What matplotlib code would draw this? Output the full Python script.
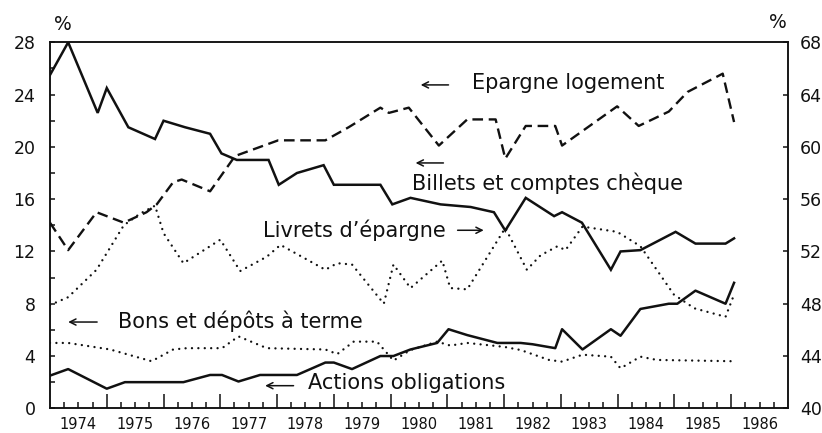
import matplotlib.pyplot as plt
import numpy as np

# Billets et comptes chèque (left scale, %)
billets_t = [1974.00, 1974.32, 1974.84, 1975.00, 1975.38, 1975.85, 1976.00, 1976.38,
             1976.82, 1977.02, 1977.29, 1977.85, 1978.03, 1978.35, 1978.82, 1979.00,
             1979.82, 1980.03, 1980.35, 1980.88, 1981.41, 1981.82, 1982.02, 1982.38,
             1982.88, 1983.02, 1983.37, 1983.88, 1984.05, 1984.40, 1985.02, 1985.37,
             1985.90, 1986.05]
billets_v = [25.5, 28.0, 22.6, 24.5, 21.5, 20.6, 22.0, 21.5,
             21.0, 19.5, 19.0, 19.0, 17.1, 18.0, 18.6, 17.1,
             17.1, 15.6, 16.1, 15.6, 15.4, 15.0, 13.6, 16.1,
             14.7, 15.0, 14.2, 10.6, 12.0, 12.1, 13.5, 12.6,
             12.6, 13.0]

# Epargne logement (left scale, %)
logement_t = [1974.00, 1974.32, 1974.82, 1975.30, 1975.70, 1975.88, 1976.17, 1976.32,
              1976.82, 1977.26, 1978.02, 1978.85, 1979.26, 1979.82, 1979.97, 1980.32,
              1980.85, 1981.35, 1981.85, 1982.02, 1982.38, 1982.90, 1983.02, 1983.99,
              1984.37, 1984.90, 1985.23, 1985.85, 1986.05]
logement_v = [14.2, 12.1, 15.0, 14.2, 15.0, 15.6, 17.3, 17.5,
              16.6, 19.3, 20.5, 20.5, 21.5, 23.0, 22.6, 23.0,
              20.1, 22.1, 22.1, 19.1, 21.6, 21.6, 20.1, 23.1,
              21.6, 22.7, 24.2, 25.6, 21.9]

# Livrets d'épargne (right scale, %)
livrets_t = [1974.00, 1974.32, 1974.82, 1975.30, 1975.59, 1975.85, 1976.00, 1976.35,
             1977.00, 1977.35, 1977.82, 1978.06, 1978.85, 1979.06, 1979.32, 1979.88,
             1980.05, 1980.35, 1980.91, 1981.05, 1981.35, 1982.02, 1982.40, 1982.64,
             1982.94, 1983.08, 1983.38, 1983.99, 1984.40, 1984.99, 1985.35, 1985.90,
             1986.05]
livrets_v = [47.9, 48.5, 50.6, 54.0, 54.9, 55.5, 53.4, 51.1,
             52.9, 50.5, 51.6, 52.5, 50.6, 51.1, 51.0, 48.0,
             51.0, 49.2, 51.3, 49.2, 49.1, 53.8, 50.6, 51.7,
             52.4, 52.1, 53.9, 53.5, 52.4, 48.7, 47.65, 47.0,
             48.7]

# Bons et dépôts à terme (left scale, %)
bons_t = [1974.00, 1974.32, 1975.06, 1975.79, 1976.17, 1976.41, 1977.03, 1977.32,
          1977.82, 1978.85, 1979.06, 1979.35, 1979.76, 1980.05, 1980.35, 1980.82,
          1981.05, 1981.35, 1982.00, 1982.29, 1982.79, 1983.02, 1983.38, 1983.88,
          1984.05, 1984.40, 1984.69, 1986.05]
bons_v = [5.0, 5.0, 4.5, 3.6, 4.5, 4.6, 4.6, 5.5,
          4.6, 4.5, 4.15, 5.1, 5.1, 3.65, 4.46, 5.1,
          4.8, 5.0, 4.7, 4.46, 3.7, 3.57, 4.1, 3.95,
          3.06, 3.95, 3.7, 3.6]

# Actions obligations (left scale, %)
actions_t = [1974.00, 1974.32, 1975.00, 1975.32, 1976.35, 1976.82, 1977.03, 1977.32,
             1977.70, 1978.35, 1978.85, 1979.00, 1979.32, 1979.82, 1980.05, 1980.35,
             1980.82, 1981.02, 1981.35, 1981.88, 1982.29, 1982.50, 1982.90, 1983.02,
             1983.38, 1983.88, 1984.05, 1984.40, 1984.90, 1985.05, 1985.37, 1985.90,
             1986.05]
actions_v = [2.5, 3.0, 1.5, 2.0, 2.0, 2.55, 2.55, 2.05,
             2.55, 2.55, 3.5, 3.5, 3.0, 4.0, 4.0, 4.5,
             5.0, 6.05, 5.6, 5.0, 5.0, 4.9, 4.6, 6.05,
             4.5, 6.05, 5.55, 7.6, 8.0, 8.0, 9.0, 8.0,
             9.6]

years = list(range(1974, 1987))
ink = '#111111'

fig = plt.figure(figsize=(8.22, 4.33), dpi=100)
ax = fig.add_axes([50 / 822, 1 - 408.3 / 433, 738 / 822, 366 / 433])
ax2 = ax.twinx()

dotted = (0, (0.01, 2.7))
ax.plot(billets_t, billets_v, color=ink, lw=1.8, solid_joinstyle='miter')
ax.plot(logement_t, logement_v, color=ink, lw=1.7, linestyle=(0, (4.5, 2.4)))
ax.plot(bons_t, bons_v, color=ink, lw=1.7, linestyle=dotted, dash_capstyle='round')
ax.plot(actions_t, actions_v, color=ink, lw=1.8)
ax2.plot(livrets_t, livrets_v, color=ink, lw=1.7, linestyle=dotted, dash_capstyle='round')

ax.set_xlim(1974, 1987)
ax.set_ylim(0, 28)
ax2.set_ylim(40, 68)

# quarterly ticks along the bottom, years labelled in the middle of each year
ax.set_xticks(years[1:], labels=[])
ax.set_xticks([y + q for y in years for q in (0.25, 0.5, 0.75)], minor=True)
ax.tick_params(axis='x', which='major', direction='in', length=10, width=1.1, color=ink)
ax.tick_params(axis='x', which='minor', direction='in', length=4.5, width=1.1, color=ink)
secax = ax.secondary_xaxis('bottom')
secax.set_xticks([y + 0.5 for y in years], labels=[str(y) for y in years])
secax.tick_params(length=0, pad=6.5, labelsize=10.5, labelcolor=ink)
secax.spines['bottom'].set_visible(False)

ax.set_yticks(range(0, 29, 4))
ax.set_yticks(range(2, 28, 4), minor=True)
ax.tick_params(axis='y', which='both', direction='in', length=3.6, width=1.1,
               color=ink, labelsize=12.5, labelcolor=ink, pad=10.5)
ax2.set_yticks(range(40, 69, 4))
ax2.tick_params(axis='y', direction='in', length=3.6, width=1.1,
                color=ink, labelsize=12.5, labelcolor=ink, pad=8.5)

for a in (ax, ax2):
    for s in a.spines.values():
        s.set_linewidth(1.1)
        s.set_color(ink)

fig.text(63 / 822, 1 - 25 / 433, '%', fontsize=13.5, color=ink, ha='center', va='center')
fig.text(778 / 822, 1 - 22 / 433, '%', fontsize=13.5, color=ink, ha='center', va='center')

# series captions with their pointing arrows
arrow = dict(arrowstyle='->', lw=1.1, color=ink, shrinkA=0, shrinkB=0,
             mutation_scale=11)
captions = [
    ('Epargne logement', 1981.44, 24.9, (1980.53, 24.74), (1981.02, 24.74)),
    ('Billets et comptes chèque', 1980.37, 17.24, (1980.44, 18.77), (1980.93, 18.77)),
    ('Livrets d’épargne', 1977.76, 13.6, (1981.64, 13.62), (1981.18, 13.62)),
    ('Bons et dépôts à terme', 1975.20, 6.68, (1974.32, 6.6), (1974.83, 6.6)),
    ('Actions obligations', 1978.55, 1.93, (1977.79, 1.73), (1978.29, 1.73)),
]
for label, tx, ty, head, tail in captions:
    ax.text(tx, ty, label, fontsize=15, color=ink, ha='left', va='center')
    ax.annotate('', xy=head, xytext=tail, arrowprops=arrow)

fig.savefig('out.png', dpi=100)
